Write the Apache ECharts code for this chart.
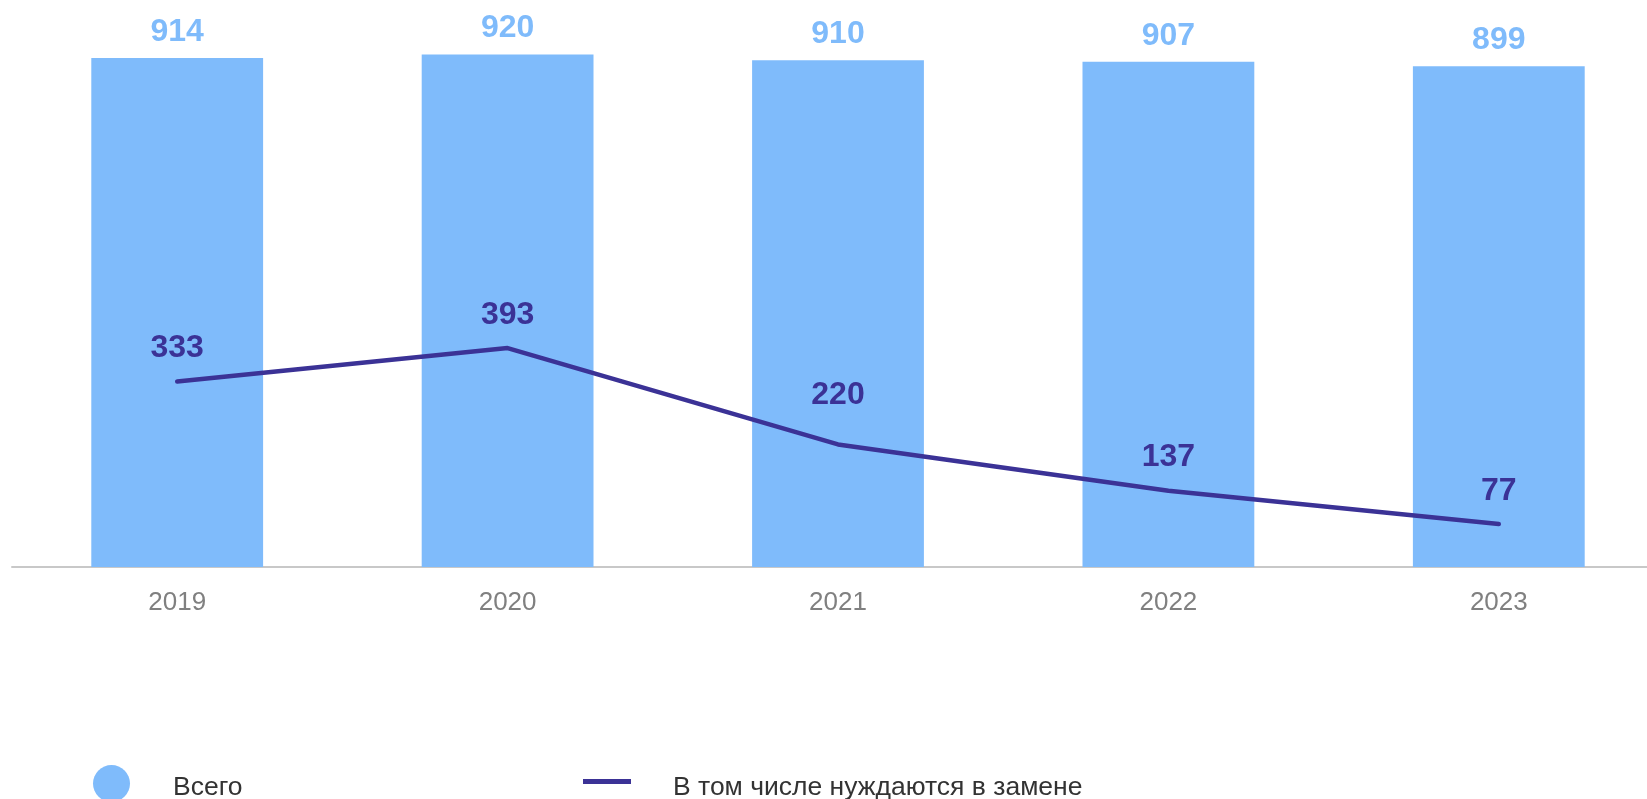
<!DOCTYPE html>
<html>
<head>
<meta charset="utf-8">
<script src="https://cdn.jsdelivr.net/npm/echarts@6/dist/echarts.min.js"></script>
<style>
  html, body { margin: 0; padding: 0; background: #fff; }
  #chart { width: 1647px; height: 799px; }
</style>
</head>
<body>
<div id="chart"></div>
<script>
  // данные
  var years = ['2019', '2020', '2021', '2022', '2023'];
  var totalValues = [914, 920, 910, 907, 899];
  var replaceValues = [333, 393, 220, 137, 77];
  var totalName = 'Всего';
  var replaceName = 'В том числе нуждаются в замене';

  var chart = echarts.init(document.getElementById('chart'));

  // значок легенды отдельно от подписи, чтобы выставить их независимо
  function legendIcon(name, icon, left, top, w, h) {
    return {
      data: [name], left: left, top: top, icon: icon, padding: 0,
      itemWidth: w, itemHeight: h,
      formatter: function () { return ''; },
      textStyle: { fontSize: 1 }
    };
  }
  function legendText(name, left, top) {
    return {
      data: [name], left: left, top: top, icon: 'none', padding: 0,
      itemWidth: 1, itemHeight: 30,
      textStyle: { fontSize: 26.5, lineHeight: 30, color: '#333' }
    };
  }

  var option = {
    animation: false,
    textStyle: { fontFamily: 'Liberation Sans, Arial, sans-serif' },
    // сетка шире окна: правый край оси уходит за границу
    grid: { left: 12, top: 10, width: 1652, height: 557, outerBoundsMode: 'none' },
    legend: [
      legendIcon(totalName, 'circle', 93, 765, 37, 37),
      legendText(totalName, 167, 773),
      legendIcon(replaceName, 'rect', 583, 779, 48, 5),
      legendText(replaceName, 667, 773)
    ],
    xAxis: {
      type: 'category',
      data: years,
      axisLine: { lineStyle: { color: '#c8c8c8', width: 2 } },
      axisTick: { show: false },
      axisLabel: { color: '#808080', fontSize: 26, margin: 23 }
    },
    yAxis: {
      type: 'value',
      min: 0, max: 1000,
      show: false,
      splitLine: { show: false }
    },
    series: [
      {
        name: totalName,
        type: 'bar',
        data: totalValues,
        barWidth: '52%',
        itemStyle: { color: '#7fbbfb' },
        label: {
          show: true, position: 'top', distance: 10,
          color: '#7fbbfb', fontSize: 32, fontWeight: 'bold'
        }
      },
      {
        name: replaceName,
        type: 'line',
        // у 2021 подпись стоит выше
        data: replaceValues.map(function (v, i) {
          return i === 2 ? { value: v, label: { distance: 33 } } : v;
        }),
        symbol: 'circle',
        symbolSize: 0.1,
        itemStyle: { color: '#3b3296' },
        lineStyle: { color: '#3b3296', width: 4.5, cap: 'round' },
        label: {
          show: true, position: 'top', distance: 17,
          color: '#3b3296', fontSize: 32, fontWeight: 'bold'
        }
      }
    ]
  };

  chart.setOption(option);
</script>
</body>
</html>
